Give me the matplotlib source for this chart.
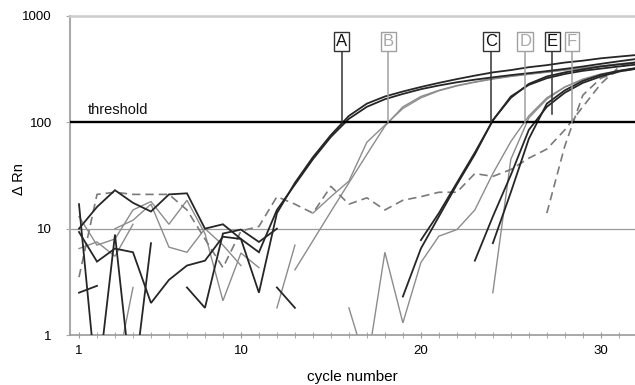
import numpy as np
import matplotlib
matplotlib.use("Agg")
import matplotlib.pyplot as plt
from matplotlib.ticker import FixedLocator, NullFormatter, NullLocator

plt.rcParams['font.family'] = ['Liberation Sans', 'DejaVu Sans']

# ---- data: (start cycle, values) ----
A1_start, A1 = 1, [10, 16, 23, 17.5, 14.5, 21, 21.5, 10, 11, 8, 2.5, 14, 27, 47, 76, 115,
                   150, 175, 195, 215, 235, 255, 275, 295, 310, 330, 345, 365, 380, 400, 415, 430]
A2_start, A2 = 1, [9.3, 4.9, 6.5, 6, 2.0, 3.3, 4.5, 5, 8.4, 8, 6, 15, 26, 45, 73, 108,
                   140, 165, 185, 205, 222, 238, 252, 265, 278, 290, 303, 318, 335, 355, 375, 395]
K1_start, K1 = 1, [17, 0.3, 8.8, 0.25]
K3_start, K3 = 4, [0.3, 7.3]
K4_start, K4 = 7, [2.8, 1.8, 9, 9.8, 7.5, 10]
K5_start, K5 = 1, [2.5, 2.9]
K6_start, K6 = 12, [2.8, 1.8]
C1_start, C1 = 19, [2.3, 6.5, 13, 26, 50, 105, 170, 230, 270, 295, 315, 335, 350, 365]
C2_start, C2 = 20, [7.8, 14, 27, 52, 104, 175, 225, 260, 285, 305, 320, 335, 350]
E1_start, E1 = 23, [5, 13, 32, 85, 140, 190, 235, 270, 300, 320]
E2_start, E2 = 24, [7.3, 22, 70, 150, 200, 245, 280, 305, 325]

G1_start, G1 = 1, [13, 7, 8, 15, 18, 11, 18.5, 9, 2.1, 5.9, 4.3]
G3_start, G3 = 3, [10, 12, 17, 6.7, 6, 10, 7, 4.5]
G4_start, G4 = 12, [1.8, 7]
G5_start, G5 = 1, [6.5, 7.5, 5.5, 11]
G6_start, G6 = 3, [0.4, 2.8]
B1_start, B1 = 13, [4.1, 7.7, 14.5, 27, 50, 92, 140, 175, 200, 222, 240, 258, 272, 285,
                    298, 312, 325, 340, 355, 370]
B2_start, B2 = 14, [14, 20, 28, 65, 94, 135, 170, 198, 220, 238, 255, 270, 283, 296,
                    310, 322, 336, 350, 365]
D1_start, D1 = 16, [1.8, 0.5, 6, 1.3, 4.8, 8.5, 9.8, 15, 33, 66, 115, 170, 215, 250, 280, 305, 325]
D2_start, D2 = 24, [2.5, 45, 110, 165, 215, 255, 285, 305, 320]

F1_start, F1 = 1, [3.5, 21, 22, 21, 21, 21, 15, 8, 4.3, 9.5, 10.5, 20, 17, 14, 25, 17,
                   19.5, 15, 18.5, 20, 22, 22, 33, 31, 36, 46, 56, 85, 140, 230, 330, 370]
F2_start, F2 = 27, [14, 60, 180, 260, 300, 320]

threshold = 100
labels = ['A', 'B', 'C', 'D', 'E', 'F']
label_cycles = [15.6, 18.2, 23.9, 25.8, 27.3, 28.4]
label_line_ends = [100, 100, 100, 100, 120, 100]
label_dark = [True, False, True, False, True, False]

x_ticks = [1, 10, 20, 30]
y_ticks = [1, 10, 100, 1000]
y_ticklabels = ['1', '10', '100', '1000']

# ---- figure ----
fig = plt.figure(figsize=(6.35, 3.85), dpi=100)
ax = fig.add_axes([70/635, 1-335/385, 565/635, (335-16)/385])
ax.set_yscale('log')
ax.set_xlim(0.5, 31.9)
ax.set_ylim(1, 1000)

def draw(start, vals, **kw):
    x = np.arange(start, start + len(vals))
    ax.plot(x, vals, solid_joinstyle='miter', **kw)

black = dict(color='#262626', lw=1.3)
gray = dict(color='#8c8c8c', lw=1.0)
dashed = dict(color='#7a7a7a', lw=1.2, dashes=(5, 3))

ax.axhline(10, color='#9a9a9a', lw=0.9, zorder=1)

for s, v in [(G1_start, G1), (G3_start, G3), (G4_start, G4), (G5_start, G5), (G6_start, G6),
             (B1_start, B1), (B2_start, B2), (D1_start, D1), (D2_start, D2)]:
    draw(s, v, **gray, zorder=2)
for s, v in [(F1_start, F1), (F2_start, F2)]:
    draw(s, v, **dashed, zorder=2)
for s, v in [(A1_start, A1), (A2_start, A2), (K1_start, K1), (K3_start, K3), (K4_start, K4),
             (K5_start, K5), (K6_start, K6), (C1_start, C1), (C2_start, C2),
             (E1_start, E1), (E2_start, E2)]:
    draw(s, v, **black, zorder=3)

ax.axhline(threshold, color='black', lw=1.7, zorder=4)
ax.text(1.5, 112, 'threshold', fontsize=10.5, color='#111', va='bottom', ha='left')

for lab, xc, yend, dark in zip(labels, label_cycles, label_line_ends, label_dark):
    col = '#333333' if dark else '#a0a0a0'
    tcol = '#111111' if dark else '#a8a8a8'
    ax.plot([xc, xc], [yend, 460], color=col, lw=1.1, zorder=5)
    ax.text(xc, 570, lab, fontsize=12, color=tcol, ha='center', va='center', zorder=6,
            bbox=dict(boxstyle='square,pad=0.12', fc='white', ec=col, lw=1.0))

# spines & ticks
ax.spines['right'].set_visible(False)
ax.spines['top'].set_color('#cccccc')
ax.spines['top'].set_linewidth(1.8)
ax.spines['left'].set_color('#aaaaaa')
ax.spines['left'].set_linewidth(1.5)
ax.spines['bottom'].set_color('#999999')
ax.spines['bottom'].set_linewidth(1.2)

ax.yaxis.set_major_locator(FixedLocator(y_ticks))
ax.set_yticklabels(y_ticklabels)
ax.yaxis.set_minor_locator(NullLocator())
ax.yaxis.set_minor_formatter(NullFormatter())
ax.tick_params(axis='y', which='major', length=3, color='#aaaaaa', labelsize=9.5, pad=10)

ax.xaxis.set_major_locator(FixedLocator(x_ticks))
ax.xaxis.set_minor_locator(FixedLocator(list(range(1, 33))))
ax.tick_params(axis='x', which='both', direction='inout', length=5, color='#999999',
               labelsize=9.5, pad=5)

ax.set_xlabel('cycle number', fontsize=11, labelpad=9)
ax.set_ylabel('Δ Rn', fontsize=10.5)
ax.yaxis.set_label_coords(-0.078, 0.49)

fig.savefig('out.png', dpi=100)
